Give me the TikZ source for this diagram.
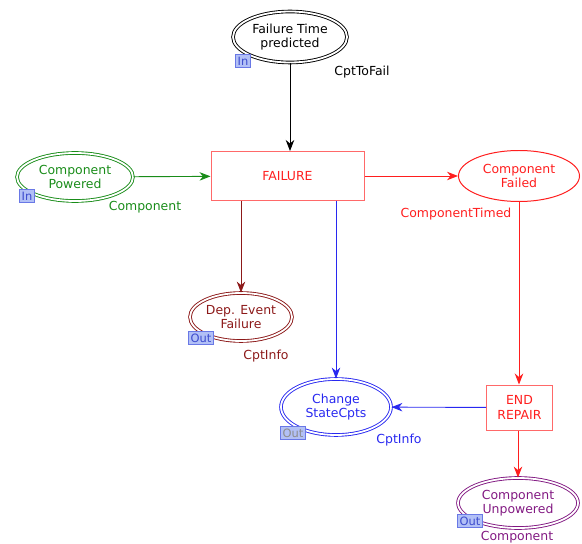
\documentclass[tikz,border=0pt]{standalone}
\usepackage{fontspec}
\setmainfont{DejaVu Sans}
\usetikzlibrary{arrows.meta,shapes.geometric}
\definecolor{cpngreen}{RGB}{25,140,25}
\definecolor{cpnred}{RGB}{255,30,30}
\definecolor{cpnbox}{RGB}{255,105,105}
\definecolor{cpndark}{RGB}{140,25,25}
\definecolor{cpnblue}{RGB}{40,40,240}
\definecolor{cpnpurple}{RGB}{130,25,130}
\definecolor{tagfill}{RGB}{178,192,246}
\definecolor{tagline}{RGB}{105,120,230}
\definecolor{tagtext}{RGB}{60,75,205}
\tikzset{
  txt/.style={font=\fontsize{12.5}{14.5}\selectfont, align=center},
  place/.style={txt, ellipse, draw, inner sep=0pt},
  fused/.style={place, double, double distance=1.8pt, line width=0.9pt},
  trans/.style={txt, rectangle, draw=cpnbox, text=cpnred, line width=1pt, inner sep=0pt},
  porttag/.style={font=\fontsize{11.5}{13}\selectfont, fill=tagfill, draw=tagline,
    text=tagtext, inner xsep=2pt, inner ysep=1pt, minimum height=13bp},
  arc/.style={-{Stealth[length=11pt,width=8.5pt,inset=3.5pt]}, line width=0.9pt},
}
\begin{document}
\begin{tikzpicture}[x=1bp,y=-1bp]
		%%%%% START %%%%%
		\useasboundingbox (0,0) rectangle (582,544);
		
		\node[fused, minimum width=114bp, minimum height=51bp] (ftp) at (290,37) {Failure Time\\predicted};
		\node[porttag] (ftpin) at (243,61) {In};
		\node[txt] (ftplab) at (362,72) {CptToFail};
		
		\node[fused, draw=cpngreen, text=cpngreen, minimum width=116bp, minimum height=48bp] (cp) at (75,177) {Component\\Powered};
		\node[porttag] (cpin) at (27,196) {In};
		\node[txt, text=cpngreen] (cplab) at (145,207) {Component};
		
		\node[trans, minimum width=153bp, minimum height=49bp] (fail) at (287.5,176) {FAILURE};
		
		\node[place, draw=cpnred, text=cpnred, line width=1pt, minimum width=121bp, minimum height=51bp] (cf) at (519,176) {Component\\Failed};
		\node[txt, text=cpnred] (cflab) at (456,214) {ComponentTimed};
		
		\node[fused, draw=cpndark, text=cpndark, minimum width=102bp, minimum height=48bp] (dep) at (241,317) {Dep. Event\\Failure};
		\node[porttag] (depout) at (201,338) {Out};
		\node[txt, text=cpndark] (deplab) at (266,356) {CptInfo};
		
		\node[fused, draw=cpnblue, text=cpnblue, minimum width=110bp, minimum height=56bp] (chg) at (336,407) {Change\\StateCpts};
		\node[porttag, text=black!45] (chgout) at (293,433) {Out};
		\node[txt, text=cpnblue] (chglab) at (399,440) {CptInfo};
		
		\node[trans, minimum width=66bp, minimum height=45bp] (endr) at (519.5,407.5) {END\\REPAIR};
		
		\node[fused, draw=cpnpurple, text=cpnpurple, minimum width=120bp, minimum height=50bp] (unp) at (518,503) {Component\\Unpowered};
		\node[porttag] (unpout) at (470,521) {Out};
		\node[txt, text=cpnpurple] (unplab) at (517,537) {Component};
		
		\draw[arc] (ftp) -- (ftp |- fail.north);
		\draw[arc, cpngreen] (cp) -- (fail);
		\draw[arc, cpnred] (fail) -- (cf);
		\draw[arc, cpndark] (dep |- fail.south) -- (dep);
		\draw[arc, cpnblue] (chg |- fail.south) -- (chg);
		\draw[arc, cpnred] (cf) -- (cf |- endr.north);
		\draw[arc, cpnblue] (endr) -- (chg);
		\draw[arc, cpnred] (unp |- endr.south) -- (unp);
		
		%%%%% END %%%%%
	\end{tikzpicture}
\end{document}
